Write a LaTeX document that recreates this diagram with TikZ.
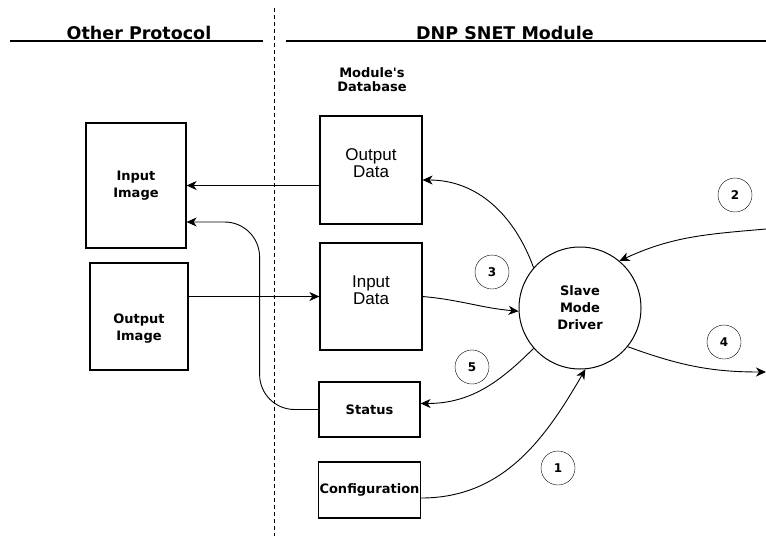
\documentclass[tikz,border=0pt]{standalone}
\usepackage{fontspec}
\setmainfont{DejaVu Sans}
\newfontfamily\arialfont{Liberation Sans}
\usetikzlibrary{arrows.meta}

\begin{document}
\begin{tikzpicture}[x=1pt,y=1pt,>={Stealth[length=10pt,width=9pt,inset=3pt]}]

        \useasboundingbox (0,0) rectangle (766,-536);

        % headings and divider
        \draw[line width=1.2pt] (10,-41) -- (263,-41);
        \draw[line width=1.2pt] (286,-41) -- (766,-41);
        \draw[dash pattern=on 4pt off 3pt] (274,-8) -- (274,-536);

        \begin{scope}[every node/.style={font=\bfseries\fontsize{17.5}{18}\selectfont, anchor=base, inner sep=0pt}]
          \node (other)  at (139,-39) {Other Protocol};
          \node (module) at (505,-39) {DNP SNET Module};
        \end{scope}

        \node[font=\bfseries\fontsize{13}{14}\selectfont, align=center] (dbase) at (372,-80) {Module\textquotesingle s\\Database};

        \begin{scope}[every node/.style={draw, line width=1.2pt, align=center, inner sep=1pt, font=\bfseries\fontsize{13}{17}\selectfont}]
          \node[minimum width=100pt, minimum height=125pt] (inimg)  at (136,-185.5) {Input\\Image};
          \node[minimum width=98pt,  minimum height=107pt] (outimg) at (139,-316.5) {\rule{0pt}{34pt}Output\\Image};
          \node[minimum width=102pt, minimum height=108pt, font=\arialfont\fontsize{17}{17}\selectfont] (outdata) at (371,-170) {Output\\Data\rule[-14pt]{0pt}{14pt}};
          \node[minimum width=102pt, minimum height=107pt, font=\arialfont\fontsize{17}{17}\selectfont] (indata)  at (371,-296.5) {Input\\Data\rule[-12pt]{0pt}{12pt}};
          \node[minimum width=101pt, minimum height=55pt] (status) at (369.5,-409.5) {Status};
          \node[minimum width=101pt, minimum height=56pt] (config) at (369.5,-490) {Configuration};
          \node[circle, line width=1pt, minimum size=122pt] (driver) at (580,-308) {Slave\\Mode\\Driver};
        \end{scope}

        \begin{scope}[every node/.style={circle, draw, minimum size=34pt, inner sep=0pt, font=\bfseries\fontsize{12}{12}\selectfont}]
          \node (n1) at (558,-468) {1};
          \node (n2) at (735,-195) {2};
          \node (n3) at (492,-272) {3};
          \node (n4) at (724,-342) {4};
          \node (n5) at (472,-367) {5};
        \end{scope}

        \coordinate (rin)  at (766,-229);
        \coordinate (rout) at (766,-372);

        \begin{scope}[every edge/.style={draw, ->, line width=0.9pt}]
          \path (outdata.west |- inimg.east) edge (inimg.east);
          \path (outimg.east |- indata.west) edge (indata.west);
          \path (driver.139) edge[out=110, in=0] ([yshift=-10pt]outdata.east);
          \path (indata.east) edge[out=-5, in=175] (driver.183);
          \path (driver.221) edge[out=225, in=0] ([yshift=6pt]status.east);
          \path ([yshift=-8pt]config.east) edge[out=0, in=240] (driver.275);
          \path (rin) edge[out=185, in=25] (driver.50);
          \path (driver.-39) edge[out=-20, in=180] (rout);
        \end{scope}

        \draw[->, line width=0.9pt, rounded corners=35pt] (status.west) -| ([xshift=73pt, yshift=-36.5pt]inimg.east) -- ([yshift=-36.5pt]inimg.east);

      \end{tikzpicture}
\end{document}
